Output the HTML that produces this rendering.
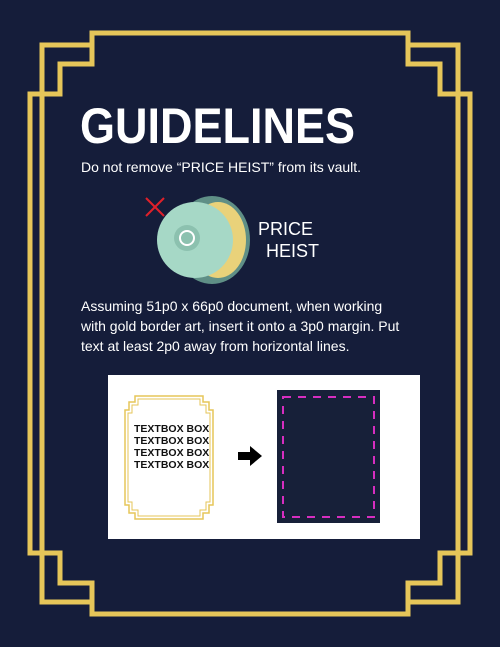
<!DOCTYPE html>
<html><head><meta charset="utf-8"><style>
html,body{margin:0;padding:0;width:500px;height:647px;overflow:hidden;background:#151d3a;font-family:"Liberation Sans",sans-serif}
.t{position:absolute;color:#fff;margin:0;white-space:nowrap}
</style></head><body>
<div style="position:relative;width:500px;height:647px">
<svg width="500" height="647" style="position:absolute;left:0;top:0">
<g fill="none" stroke="#e6c659" stroke-width="5">
<polygon points="92,33 408,33 408,64 440,64 440,94 470,94 470,553 440,553 440,583 408,583 408,614 92,614 92,583 60,583 60,553 30,553 30,94 60,94 60,64 92,64"/>
<polyline points="92,45 42,45 42,602 92,602"/>
<polyline points="408,45 458,45 458,602 408,602"/>
</g>
</svg>
<div class="t" style="left:80px;top:97px;font-size:50px;font-weight:bold;transform:scaleX(0.9);transform-origin:0 0">GUIDELINES</div>
<div class="t" style="left:81px;top:159px;font-size:14px">Do not remove “PRICE HEIST” from its vault.</div>
<svg width="120" height="110" style="position:absolute;left:140px;top:188px">
<line x1="6" y1="10" x2="24" y2="28" stroke="#e0202a" stroke-width="2"/>
<line x1="24" y1="10" x2="6" y2="28" stroke="#e0202a" stroke-width="2"/>
<ellipse cx="72" cy="52" rx="38" ry="44" fill="#5f8f86"/>
<ellipse cx="78" cy="52" rx="28" ry="38" fill="#e9d27a"/>
<circle cx="55" cy="52" r="38" fill="#a6d8c6"/>
<circle cx="47" cy="50" r="13" fill="#8cc1af"/>
<circle cx="47" cy="50" r="7" fill="none" stroke="#fff" stroke-width="2"/>
</svg>
<div class="t" style="left:258px;top:219px;font-size:18px">PRICE</div>
<div class="t" style="left:266px;top:241px;font-size:18px">HEIST</div>
<div class="t" style="left:81px;top:296px;font-size:14px;line-height:20px">Assuming 51p0 x 66p0 document, when working<br>with gold border art, insert it onto a 3p0 margin. Put<br>text at least 2p0 away from horizontal lines.</div>
<div style="position:absolute;left:108px;top:375px;width:312px;height:164px;background:#fff"></div>
<svg width="312" height="164" style="position:absolute;left:108px;top:375px">
<g fill="none" stroke="#e6c659" stroke-width="1.5">
<polygon points="27,21 95,21 95,27 101,27 101,35 105,35 105,130 101,130 101,138 95,138 95,144 27,144 27,138 21,138 21,130 17,130 17,35 21,35 21,27 27,27"/>
<polygon points="30,24 92,24 92,30 98,30 98,38 102,38 102,127 98,127 98,135 92,135 92,141 30,141 30,135 24,135 24,127 20,127 20,38 24,38 24,30 30,30" stroke-width="1"/>
</g>
<g font-size="10.5" font-weight="bold" fill="#111" font-family="Liberation Sans">
<text x="26" y="57">TEXTBOX BOX</text>
<text x="26" y="69">TEXTBOX BOX</text>
<text x="26" y="81">TEXTBOX BOX</text>
<text x="26" y="93">TEXTBOX BOX</text>
</g>
<polygon points="130,77 142,77 142,71 154,81 142,91 142,85 130,85" fill="#000"/>
<rect x="169" y="15" width="103" height="133" fill="#172039"/>
<rect x="175" y="22" width="91" height="120" fill="none" stroke="#d62ec0" stroke-width="2" stroke-dasharray="8,7"/>
</svg>
</div>
</body></html>
